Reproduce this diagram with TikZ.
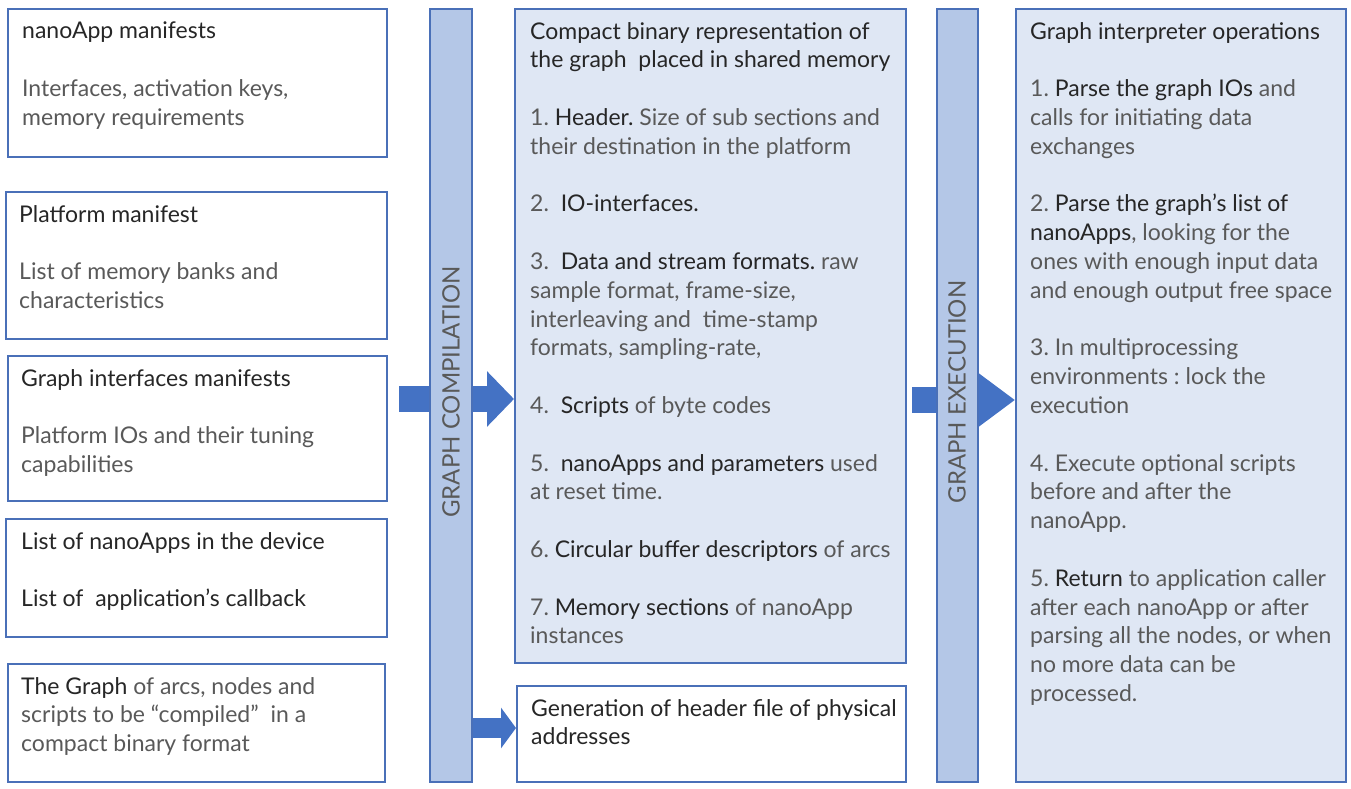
\documentclass[tikz,border=0pt]{standalone}
\usepackage{fontspec}
\setmainfont{Lato}
\usepackage{tikz}
\usetikzlibrary{arrows.meta}

\definecolor{frameblue}{HTML}{4A70B8}
\definecolor{barfill}{HTML}{B4C7E7}
\definecolor{panelfill}{HTML}{DFE7F4}
\definecolor{arrowblue}{HTML}{4472C4}
\definecolor{bodygray}{HTML}{595959}
\definecolor{titlegray}{HTML}{262626}

\newcommand\hl[1]{{\color{titlegray}#1}}
\frenchspacing

\begin{document}
\begin{tikzpicture}
      [ x = 1pt, y = -1pt
      , box/.style =
        { draw = frameblue, line width = 1.6pt, inner sep = 0pt, anchor = north west }
      , panel/.style =
        { box, fill = panelfill }
      , bar/.style =
        { draw = frameblue, line width = 1.6pt, fill = barfill, inner sep = 0pt, anchor = north west }
      , txt/.style =
        { anchor = north west, inner sep = 0pt, align = left, text = bodygray
        , font = \fontsize{23}{28.8}\selectfont }
      , bartxt/.style =
        { rotate = 90, inner sep = 0pt, text = bodygray
        , font = \fontsize{24}{28}\selectfont }
      , blockarrow/.style =
        { draw = arrowblue, line cap = butt }
      ]
      \useasboundingbox (0,0) rectangle (1351,789);
      % input boxes
      \node [box, minimum width = 379pt, minimum height = 148pt] (nano) at (7,8) {};
      \node [box, minimum width = 381pt, minimum height = 147pt] (plat) at (5,191) {};
      \node [box, minimum width = 379pt, minimum height = 145pt] (gif) at (7,355) {};
      \node [box, minimum width = 381pt, minimum height = 118pt] (apps) at (5,518) {};
      \node [box, minimum width = 377pt, minimum height = 118pt] (graph) at (7,663) {};
      \node [txt] (nanotxt) at (22,22) {\hl{nanoApp manifests}\\[28.8pt]
        Interfaces, activation keys,\\ memory requirements};
      \node [txt] (plattxt) at (19,205) {\hl{Platform manifest}\\[28.8pt]
        List of memory banks and\\ characteristics};
      \node [txt] (giftxt) at (21,369) {\hl{Graph interfaces manifests}\\[28.8pt]
        Platform IOs and their tuning\\ capabilities};
      \node [txt] (appstxt) at (21,532) {\hl{List of nanoApps in the device}\\[28.8pt]
        \hl{List of \ application’s callback}};
      \node [txt] (graphtxt) at (21,677) {\hl{The Graph} of arcs, nodes and\\
        scripts to be “compiled”\ \ in a\\ compact binary format};
      % arrows, under the bars
      \coordinate (c1) at (399,399);
      \coordinate (c2) at (450,728);
      \coordinate (c3) at (912,400);
      \node [panel, minimum width = 391pt, minimum height = 654pt] (bin) at (514,8) {};
      \node [box, minimum width = 389pt, minimum height = 96pt] (hdr) at (516,685) {};
      \node [panel, minimum width = 330pt, minimum height = 773pt] (ops) at (1015,8) {};
      \draw [blockarrow, line width = 26pt, -{Triangle[length = 27pt, width = 54pt]}]
        (c1) -- (c1 -| bin.west);
      \draw [blockarrow, line width = 20pt, -{Triangle[length = 15pt, width = 40pt]}]
        (c2) -- (c2 -| hdr.west);
      \draw [blockarrow, line width = 26pt, -{Triangle[length = 37pt, width = 52pt]}]
        (c3) -- (c3 -| ops.west);
      % bars
      \node [bar, minimum width = 42pt, minimum height = 773pt] (comp) at (429,8) {};
      \node [bar, minimum width = 41pt, minimum height = 773pt] (exec) at (936,8) {};
      \node [bartxt] (comptxt) at (451,392) {GRAPH COMPILATION};
      \node [bartxt] (exectxt) at (957,392) {GRAPH EXECUTION};
      % outputs
      \node [txt] (bintxt) at (530,22) {\hl{Compact binary representation of}\\
        \hl{the graph\ \ placed in shared memory}\\[28.8pt]
        1. \hl{Header.} Size of sub sections and\\
        their destination in the platform\\[28.8pt]
        2.\ \ \hl{IO-interfaces.}\\[28.8pt]
        3.\ \ \hl{Data and stream formats.} raw\\
        sample format, frame-size,\\
        interleaving and\ \ time-stamp\\
        formats, sampling-rate,\\[28.8pt]
        4.\ \ \hl{Scripts} of byte codes\\[28.8pt]
        5.\ \ \hl{nanoApps and parameters} used\\
        at reset time.\\[28.8pt]
        6. \hl{Circular buffer descriptors} of arcs\\[28.8pt]
        7. \hl{Memory sections} of nanoApp\\
        instances};
      \node [txt] (hdrtxt) at (531,699) {\hl{Generation of header file of physical}\\
        \hl{addresses}};
      \node [txt] (opstxt) at (1030,22) {\hl{Graph interpreter operations}\\[28.8pt]
        1. \hl{Parse the graph IOs} and\\
        calls for initiating data\\
        exchanges\\[28.8pt]
        2. \hl{Parse the graph’s list of}\\
        \hl{nanoApps}, looking for the\\
        ones with enough input data\\
        and enough output free space\\[28.8pt]
        3. In multiprocessing\\
        environments : lock the\\
        execution\\[28.8pt]
        4. Execute optional scripts\\
        before and after the\\
        nanoApp.\\[28.8pt]
        5. \hl{Return} to application caller\\
        after each nanoApp or after\\
        parsing all the nodes, or when\\
        no more data can be\\
        processed.};
    \end{tikzpicture}
\end{document}
